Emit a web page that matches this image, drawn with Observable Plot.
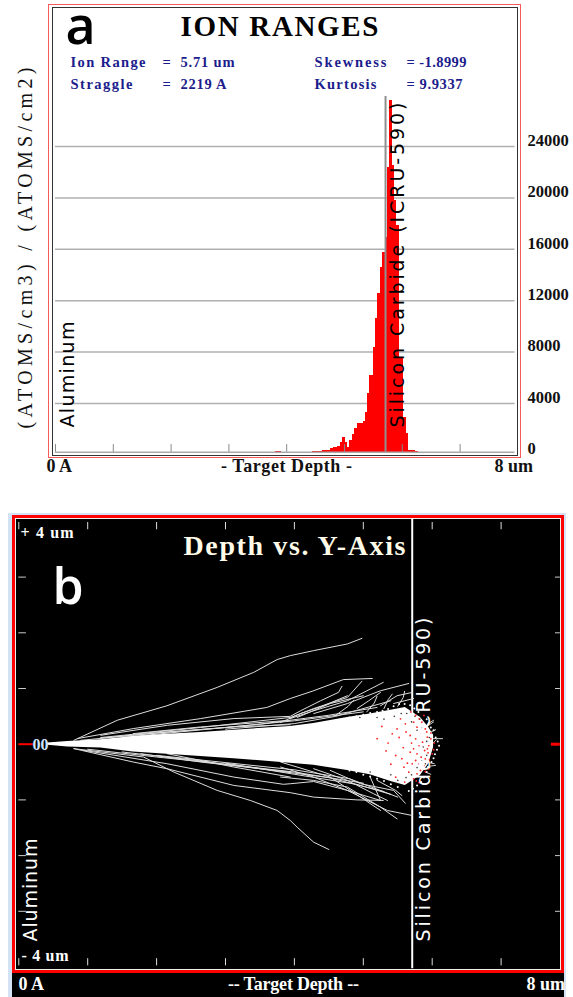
<!DOCTYPE html>
<html>
<head>
<meta charset="utf-8">
<script src="https://cdn.jsdelivr.net/npm/d3@7"></script>
<script src="https://cdn.jsdelivr.net/npm/@observablehq/plot@0.6"></script>
<style>
html,body{margin:0;padding:0;background:#fff}
#root{position:relative;width:573px;height:997px;overflow:hidden}
.box{position:absolute;box-sizing:border-box}
</style>
</head>
<body>
<div id="root">
  <div class="box" style="left:48px;top:4px;width:473px;height:454px;border:1.5px solid #f65a5a"></div>
  <div class="box" style="left:52px;top:7px;width:466px;height:449px;border:1.5px solid #333"></div>
  <div class="box" style="left:8px;top:513px;width:558px;height:484px;background:#d3e2f4"></div>
  <div class="box" style="left:12px;top:515px;width:552px;height:482px;background:#000"></div>
  <div class="box" style="left:12px;top:515px;width:552px;height:458px;border:3px solid #f00"></div>
  <div class="box" style="left:15px;top:518px;width:546px;height:452px;border:1.5px solid #eee"></div>
</div>
<script>
// ---------- Panel a: ion range histogram ----------
const binEdges = [4.446,4.528,4.619,4.758,4.815,4.874,4.931,4.971,5.022,5.057,5.092,5.133,5.178,5.220,5.323,5.363,5.398,5.433,5.497,5.536,5.576,5.623,5.663,5.709,5.749,5.770,5.825,5.865,5.908,5.957,6.026,6.073,6.112,6.228,6.280];
const binCounts = [288,265,342,475,576,677,988,1330,988,599,1120,1587,2030,2466,2622,3322,4777,6163,8379,10612,12557,14603,15770,16937,22383,27572,22515,19793,17847,7578,2910,1665,381,303];
const strayBin = [{x1:3.81,x2:3.91,count:300}];
const countTicks = [0,4000,8000,12000,16000,20000,24000];
const gridCounts = [4000,8000,12000,16000,20000,24000];
const depthTicksA = [0,1,2,3,4,5,6,7];
const layerDepth = 5.71;
const histBase = 210;

// ---------- Panel b: ion tracks, depth (um), lateral Y (um) ----------
const fanDepth = [0.42,0.71,1.19,1.66,2.15,2.64,3.12,3.94,4.28,4.77,5.10,5.40,5.61,5.83,5.95,6.02];
const fanUpper = [0.02,0.05,0.08,0.14,0.18,0.21,0.25,0.32,0.37,0.48,0.54,0.61,0.66,0.48,0.30,0.16];
const fanLower = [-0.02,-0.05,-0.07,-0.14,-0.18,-0.22,-0.26,-0.34,-0.38,-0.47,-0.55,-0.67,-0.74,-0.56,-0.35,-0.06];
const tracksUpper = [
 [[0.80,0.07],[1.43,0.43],[2.15,0.69],[2.88,1.02],[3.41,1.29],[3.75,1.52],[3.94,1.59],[4.28,1.68],[4.77,1.80],[4.98,1.90]],
 [[0.85,0.10],[1.66,0.28],[2.64,0.46],[3.60,0.66],[3.94,0.82],[4.28,0.96],[4.71,1.16],[5.13,1.18]],
 [[1.19,0.16],[2.16,0.34],[3.12,0.46],[3.94,0.50],[4.09,0.60],[4.38,0.78],[4.64,0.93],[4.69,1.04]],
 [[1.19,0.12],[2.64,0.30],[3.94,0.48],[4.28,0.64],[4.77,0.84],[4.98,1.13]],
 [[3.94,0.46],[4.28,0.60],[4.77,0.78],[5.29,1.11]],
 [[4.28,0.55],[4.77,0.73],[5.25,0.96],[5.66,1.09]],
 [[4.91,0.64],[5.08,0.78],[5.25,0.93]],
 [[5.25,0.69],[5.49,0.87],[5.71,0.93]],
 [[5.44,0.73],[5.73,0.82]],
 [[3.80,0.39],[4.09,0.55],[4.42,0.69],[4.77,0.87]],
 [[4.04,0.48],[4.52,0.73],[5.00,0.87]],
 [[1.66,0.19],[2.64,0.31],[3.94,0.43]],
 [[1.19,0.11],[2.15,0.22],[3.12,0.31],[3.94,0.35]],
 [[0.90,0.07],[2.00,0.20],[3.00,0.30],[4.00,0.42],[5.00,0.58]],
 [[1.50,0.12],[2.50,0.24],[3.50,0.36],[4.50,0.52],[5.20,0.66]],
 [[3.00,0.27],[4.00,0.37],[4.60,0.50],[5.40,0.78]],
 [[5.05,0.58],[5.16,0.74],[5.20,0.86]],
 [[5.30,0.64],[5.36,0.80],[5.42,0.90]],
 [[5.50,0.68],[5.58,0.84],[5.60,0.95]],
 [[4.60,0.52],[4.78,0.68],[4.86,0.79]]
];
const tracksLower = [
 [[0.80,-0.08],[1.81,-0.23],[2.25,-0.50],[2.88,-0.83],[3.36,-1.01],[3.75,-1.19],[3.94,-1.37],[4.04,-1.49],[4.28,-1.76],[4.50,-1.89]],
 [[0.80,-0.08],[1.66,-0.32],[2.15,-0.44],[3.12,-0.74],[3.94,-0.87],[4.28,-0.95],[4.91,-1.00],[5.29,-1.01]],
 [[0.94,-0.11],[2.15,-0.35],[3.12,-0.59],[3.84,-0.72],[3.94,-0.71],[4.28,-0.67],[4.77,-0.83],[5.25,-1.01]],
 [[3.80,-0.59],[4.28,-0.65],[4.77,-0.77],[5.25,-1.13],[5.49,-1.34]],
 [[3.80,-0.41],[4.28,-0.59],[4.77,-0.83],[5.35,-1.19],[5.71,-1.28]],
 [[3.80,-0.32],[4.52,-0.59],[4.96,-0.95],[5.25,-1.19]],
 [[2.15,-0.17],[3.12,-0.41],[3.94,-0.59]],
 [[1.77,-0.17],[2.64,-0.32],[3.94,-0.50]],
 [[4.28,-0.44],[4.77,-0.65],[5.15,-0.89],[5.35,-1.01]],
 [[4.52,-0.47],[4.96,-0.71],[5.44,-0.83],[5.61,-1.06]],
 [[5.10,-0.59],[5.25,-1.01]],
 [[5.20,-0.65],[5.47,-0.83],[5.56,-0.92]],
 [[1.00,-0.09],[2.00,-0.23],[3.00,-0.36],[4.00,-0.50],[5.00,-0.70]],
 [[1.50,-0.14],[2.50,-0.28],[3.50,-0.44],[4.50,-0.60],[5.30,-0.85]],
 [[2.00,-0.20],[3.00,-0.33],[4.00,-0.46],[4.80,-0.62],[5.50,-0.95]],
 [[3.00,-0.34],[4.00,-0.54],[4.90,-0.72],[5.40,-0.90]]
];
const tipSpikes = [
 [[5.97,0.10],[6.15,0.10]],[[5.90,0.30],[6.02,0.40]],[[5.93,0.36],[6.02,0.43]],
 [[5.95,-0.33],[6.03,-0.35]],[[5.93,-0.40],[6.05,-0.38]],[[5.98,-0.02],[6.06,0.08]],
 [[5.95,0.20],[6.05,0.26]],[[5.90,-0.50],[5.98,-0.54]]
];
const fringeIons = [[5.92,.45],[5.95,.38],[5.98,.30],[6.02,.25],[6.05,.12],[6.08,.05],[6.10,-.03],[6.07,-.10],[6.04,-.18],[6.02,-.25],[5.99,-.32],[5.96,-.42],[5.92,-.50],[5.88,-.60],[5.84,-.68],[5.78,-.74],[5.72,-.80],[5.66,-.84],[5.80,.58],[5.74,.64],[5.68,.70],[5.60,.72],[5.52,.72],[5.44,.68],[5.36,.63],[5.28,.60],[5.20,.58],[5.10,.56],[5.00,.53],[4.90,.50],[4.80,.48],[5.30,-.66],[5.20,-.62],[5.10,-.58],[5.00,-.55],[5.40,-.72],[5.50,-.77],[4.90,-.50],[4.80,-.47]];
const fanGaps = [[5.70,.40],[5.78,.25],[5.85,.30],[5.88,.18],[5.92,.05],[5.96,.12],[5.87,-.05],[5.92,-.20],[5.85,-.30],[5.78,-.42],[5.70,-.55],[5.62,-.60],[5.55,.55],[5.63,.55],[5.45,.50],[5.90,-.35],[5.75,.50],[5.82,.45],[5.50,-.65],[5.40,-.55],[5.30,.45],[5.20,.48],[4.95,.48],[5.10,-.50]];
const stoppedIons = [[5.81,.455],[5.85,.395],[5.78,.305],[5.90,.275],[5.83,.186],[5.93,.126],[5.76,.096],[5.86,.036],[5.95,-.024],[5.81,-.024],[5.73,-.083],[5.89,-.113],[5.94,-.155],[5.78,-.173],[5.84,-.233],[5.68,-.143],[5.90,-.263],[5.76,-.293],[5.95,-.323],[5.81,-.353],[5.88,-.383],[5.71,-.353],[5.93,-.083],[5.83,-.472],[5.90,-.490],[5.78,-.532],[5.73,-.622],[5.85,-.592],[5.81,-.694],[5.66,-.502],[5.49,.275],[5.42,.186],[5.54,.455],[5.61,.365],[5.68,.156],[5.47,-.203],[5.59,-.413],[5.47,-.592],[5.76,.515],[5.73,.395],[5.88,.515],[5.98,.096],[6.00,-.173],[5.95,-.442],[5.20,.10],[5.33,-.12],[5.27,.32],[5.40,-.36],[5.36,.02],[5.52,.12],[5.58,-.06],[5.62,.22],[5.56,-.26],[5.64,-.34],[5.70,.02],[5.98,.20],[6.03,.02],[6.02,-.10],[5.92,.22],[5.87,-.44],[5.69,.58],[5.60,-.68],[5.77,-.66],[5.96,-.28]];
const depthTicksB = [0,1,2,3,4,5,6,7];
const yTicksB = [-3,-2,-1,1,2,3];

// ---------- helpers ----------
const SERIF = "Liberation Serif";
const SANS = "DejaVu Sans";
function labeller(ml, mt, offsetTop) {
  return (txt, px, py, o = {}) => {
    const {len, ...rest} = o;
    return Plot.text([txt], {
      text: d => d, frameAnchor: "top-left", textAnchor: "middle", lineAnchor: "middle",
      dx: px - ml, dy: py - offsetTop - mt,
      ...rest,
      render(i, s, v, d, c, next) {
        const g = next(i, s, v, d, c);
        if (len) g.querySelectorAll("text").forEach(t => {
          t.setAttribute("textLength", len);
          t.setAttribute("lengthAdjust", "spacing");
        });
        return g;
      }
    });
  };
}
const XY = {x: d => d[0], y: d => d[1]};

// ---------- Panel a ----------
const mA = {top: 94.6, left: 55, right: 55.6, bottom: 25.6};
const la = labeller(mA.left, mA.top, 0);
const histRows = binCounts.map((count, i) => ({x1: binEdges[i], x2: binEdges[i + 1], count}));
const serifBold = {fontFamily: SERIF, fontWeight: "bold"};
const stat = {...serifBold, fontSize: 14.5, textAnchor: "start", fill: "#1c1c8c"};
const plotA = Plot.plot({
  width: 573, height: 480,
  marginTop: mA.top, marginLeft: mA.left, marginRight: mA.right, marginBottom: mA.bottom,
  style: {position: "absolute", left: "0", top: "0", background: "none", overflow: "visible"},
  x: {domain: [0, 8], axis: null},
  y: {domain: [0, 28000], axis: null},
  marks: [
    Plot.ruleY(gridCounts, {x1: 0, x2: 7.95, stroke: "#b0b0b0", strokeWidth: 1.5}),
    Plot.rectY(histRows, {x1: "x1", x2: "x2", y1: histBase, y2: "count", fill: "#f00", shapeRendering: "crispEdges"}),
    Plot.rectY(strayBin, {x1: "x1", x2: "x2", y1: histBase, y2: "count", fill: "#f00", shapeRendering: "crispEdges"}),
    Plot.ruleY([histBase], {x1: 0, x2: 7.95, stroke: "#aaa", strokeWidth: 1.5}),
    Plot.ruleX(depthTicksA, {y1: histBase, y2: 800, stroke: "#888", strokeWidth: 1}),
    Plot.ruleX([layerDepth], {y1: histBase, y2: 27900, stroke: "#8f8f8f", strokeWidth: 2}),
    Plot.axisY(countTicks, {anchor: "right", tickSize: 0, tickPadding: 9.6, textAnchor: "start", dy: -6,
      label: null, tickFormat: "d", fontSize: 16.5, fontFamily: SERIF, fontWeight: "bold", color: "#111"}),
    la("a", 65, 43, {fontFamily: "Open Sans", fontWeight: 600, fontSize: 52, textAnchor: "start", lineAnchor: "bottom", fill: "#000"}),
    la("ION RANGES", 279, 26, {...serifBold, fontSize: 29, len: 198, fill: "#000"}),
    la("Ion Range", 70, 62, {...stat, len: 75}),
    la("=", 162, 62, stat),
    la("5.71 um", 180, 62, {...stat, len: 54}),
    la("Straggle", 70, 84, {...stat, len: 62}),
    la("=", 162, 84, stat),
    la("2219 A", 180, 84, {...stat, len: 46}),
    la("Skewness", 314, 62, {...stat, len: 72}),
    la("= -1.8999", 406, 62, {...stat, len: 60}),
    la("Kurtosis", 314, 84, {...stat, len: 62}),
    la("= 9.9337", 406, 84, {...stat, len: 56}),
    la("(ATOMS/cm3) / (ATOMS/cm2)", 25, 428, {fontFamily: SERIF, fontSize: 20, rotate: -90, textAnchor: "start", len: 361, fill: "#111"}),
    la("Aluminum", 67, 427, {fontFamily: SANS, fontSize: 19, rotate: -90, textAnchor: "start", len: 106, fill: "#000"}),
    la("Silicon Carbide (ICRU-590)", 397, 427, {fontFamily: SANS, fontSize: 19, rotate: -90, textAnchor: "start", len: 325, fill: "#000"}),
    la("0 A", 46, 466, {...serifBold, fontSize: 18, textAnchor: "start", fill: "#111"}),
    la("- Target Depth -", 286, 466, {...serifBold, fontSize: 18, len: 131, fill: "#111"}),
    la("8 um", 494, 466, {...serifBold, fontSize: 18, textAnchor: "start", fill: "#111"})
  ]
});

// ---------- Panel b ----------
const bTop = 480;
const mB = {top: 40.9, left: 18.3, right: 3.5, bottom: 30.5};
const lb = labeller(mB.left, mB.top, bTop);
const fanRows = fanDepth.map((depth, i) => ({depth, upper: fanUpper[i], lower: fanLower[i]}));
const white = "#fff";
const plotB = Plot.plot({
  width: 573, height: 517,
  marginTop: mB.top, marginLeft: mB.left, marginRight: mB.right, marginBottom: mB.bottom,
  style: {position: "absolute", left: "0", top: bTop + "px", background: "none", overflow: "hidden"},
  x: {domain: [0, 8], axis: null},
  y: {domain: [-4, 4], axis: null},
  marks: [
    Plot.ruleX(depthTicksB, {y1: 3.98, y2: 3.85, stroke: "#ddd", strokeWidth: 1}),
    Plot.ruleX(depthTicksB, {y1: -3.98, y2: -3.85, stroke: "#ddd", strokeWidth: 1}),
    Plot.ruleY(yTicksB, {x1: 0, x2: 0.11, stroke: "#ccc", strokeWidth: 1}),
    Plot.ruleY(yTicksB, {x1: 7.79, x2: 7.86, stroke: "#ccc", strokeWidth: 1}),
    Plot.ruleY([0], {x1: 0, x2: 0.21, stroke: "#f00", strokeWidth: 2}),
    Plot.ruleY([0], {x1: 7.73, x2: 7.86, stroke: "#f00", strokeWidth: 3}),
    Plot.ruleX([layerDepth], {y1: -4.03, y2: 4.05, stroke: white, strokeWidth: 2}),
    ...tracksUpper.map(t => Plot.line(t, {...XY, stroke: "#ddd", strokeWidth: 1})),
    ...tracksLower.map(t => Plot.line(t, {...XY, stroke: "#ddd", strokeWidth: 1})),
    ...tipSpikes.map(t => Plot.line(t, {...XY, stroke: "#ccc", strokeWidth: 1})),
    Plot.areaY(fanRows, {x: "depth", y1: "upper", y2: "lower", fill: white}),
    Plot.dot(fringeIons, {...XY, r: 1, fill: white, stroke: "none"}),
    Plot.dot(fanGaps, {...XY, r: 0.8, fill: "#333", stroke: "none"}),
    Plot.dot(stoppedIons, {...XY, r: 0.9, fill: "#f22", stroke: "none"}),
    lb("00", 32, 744, {...serifBold, fontSize: 16, textAnchor: "start", fill: "#cfe6ff"}),
    lb("+ 4 um", 20, 532, {...serifBold, fontSize: 16, textAnchor: "start", len: 53, fill: white}),
    lb("- 4 um", 21, 955, {...serifBold, fontSize: 16, textAnchor: "start", len: 47, fill: white}),
    lb("Depth vs. Y-Axis", 294, 546, {...serifBold, fontSize: 28, len: 222, fill: "#fffbe8"}),
    lb("b", 52, 603, {fontFamily: "Open Sans", fontWeight: 600, fontSize: 50, textAnchor: "start", lineAnchor: "bottom", fill: white}),
    lb("Aluminum", 30, 941, {fontFamily: SANS, fontSize: 19, rotate: -90, textAnchor: "start", len: 103, fill: white}),
    lb("Silicon Carbide (ICRU-590)", 423, 941, {fontFamily: SANS, fontSize: 19, rotate: -90, textAnchor: "start", len: 324, fill: white}),
    lb("0 A", 18, 984, {...serifBold, fontSize: 18, textAnchor: "start", fill: white}),
    lb("-- Target Depth --", 293, 984, {...serifBold, fontSize: 18, len: 131, fill: white}),
    lb("8 um", 526, 984, {...serifBold, fontSize: 18, textAnchor: "start", fill: white})
  ]
});
const root = document.getElementById("root");
root.appendChild(plotA);
root.appendChild(plotB);
</script>
</body>
</html>
